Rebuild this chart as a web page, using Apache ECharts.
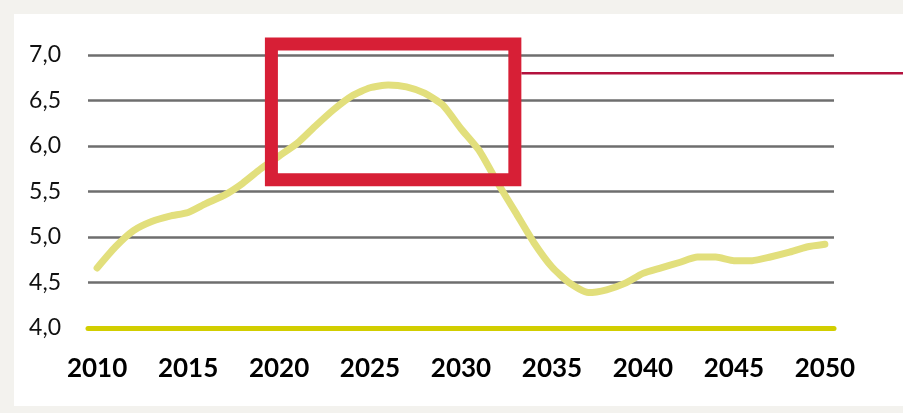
<!DOCTYPE html>
<html>
<head>
<meta charset="utf-8">
<script src="https://cdn.jsdelivr.net/npm/echarts@6/dist/echarts.min.js"></script>
<style>
  html, body { margin: 0; padding: 0; background: #f3f2ee; }
  #main { width: 903px; height: 413px; }
</style>
</head>
<body>
<div id="main"></div>
<script>
// years on the x axis and the curve
var years = [2010, 2011, 2012, 2013, 2014, 2015, 2016, 2017, 2018, 2019,
  2020, 2021, 2022, 2023, 2024, 2025, 2026, 2027, 2028, 2029,
  2030, 2031, 2032, 2033, 2034, 2035, 2036, 2037, 2038, 2039,
  2040, 2041, 2042, 2043, 2044, 2045, 2046, 2047, 2048, 2049, 2050];
var values = [4.66, 4.89, 5.07, 5.17, 5.23, 5.27, 5.37, 5.46, 5.59, 5.75,
  5.89, 6.03, 6.22, 6.40, 6.55, 6.64, 6.67, 6.65, 6.58, 6.45,
  6.19, 5.95, 5.60, 5.27, 4.94, 4.67, 4.49, 4.39, 4.42, 4.49,
  4.60, 4.66, 4.72, 4.78, 4.78, 4.74, 4.74, 4.78, 4.83, 4.89, 4.92];
var xLabels = [2010, 2015, 2020, 2025, 2030, 2035, 2040, 2045, 2050];
// highlight box (years / values) and the pointer line level
var boxYears = [2019.58, 2032.96];
var boxValues = [5.63, 7.12];
var pointerValue = 6.8;

var chart = echarts.init(document.getElementById('main'));

var points = years.map(function (y, i) { return [y, values[i]]; });

var option = {
  backgroundColor: 'transparent',
  animation: false,
  grid: { left: 88, right: 69, top: 55, bottom: 85 },
  xAxis: {
    type: 'value',
    min: 2009.5,
    max: 2050.5,
    axisLine: { show: true, lineStyle: { color: '#d2ce00', width: 5 } },
    axisTick: { show: false },
    splitLine: { show: false },
    axisLabel: {
      customValues: xLabels,
      margin: 28,
      color: '#000',
      fontFamily: 'Lato',
      fontWeight: 'bold',
      fontSize: 26,
      formatter: function (v) { return String(v); }
    }
  },
  yAxis: {
    type: 'value',
    min: 4,
    max: 7,
    interval: 0.5,
    axisLine: { show: false },
    axisTick: { show: false },
    splitLine: { lineStyle: { color: '#6e6e6e', width: 2.5 } },
    axisLabel: {
      margin: 27,
      color: '#111',
      fontFamily: 'Lato',
      fontSize: 23,
      formatter: function (v) { return v.toFixed(1).replace('.', ','); }
    }
  },
  series: [{
    type: 'line',
    data: points,
    showSymbol: false,
    smooth: 0.2,
    clip: false,
    lineStyle: { color: '#e2df7c', width: 7, cap: 'round', join: 'round' }
  }]
};
chart.setOption(option);

// white panel, highlight box and pointer line placed via the axes
var p1 = chart.convertToPixel({ gridIndex: 0 }, [boxYears[0], boxValues[1]]);
var p2 = chart.convertToPixel({ gridIndex: 0 }, [boxYears[1], boxValues[0]]);
var pl = chart.convertToPixel({ gridIndex: 0 }, [boxYears[1], pointerValue]);
var sw = 13;

chart.setOption({
  graphic: [
    {
      type: 'rect', z: -10, silent: true,
      shape: { x: 14, y: 14, width: 889, height: 392 },
      style: { fill: '#ffffff' }
    },
    {
      type: 'line', z: 90, silent: true,
      shape: { x1: p2[0] + sw / 2, y1: pl[1], x2: 903, y2: pl[1] },
      style: { stroke: '#b3123e', lineWidth: 2.5 }
    },
    {
      type: 'rect', z: 100, silent: true,
      shape: { x: p1[0], y: p1[1], width: p2[0] - p1[0], height: p2[1] - p1[1] },
      style: { fill: 'none', stroke: '#d71f36', lineWidth: sw }
    }
  ]
});
</script>
</body>
</html>
